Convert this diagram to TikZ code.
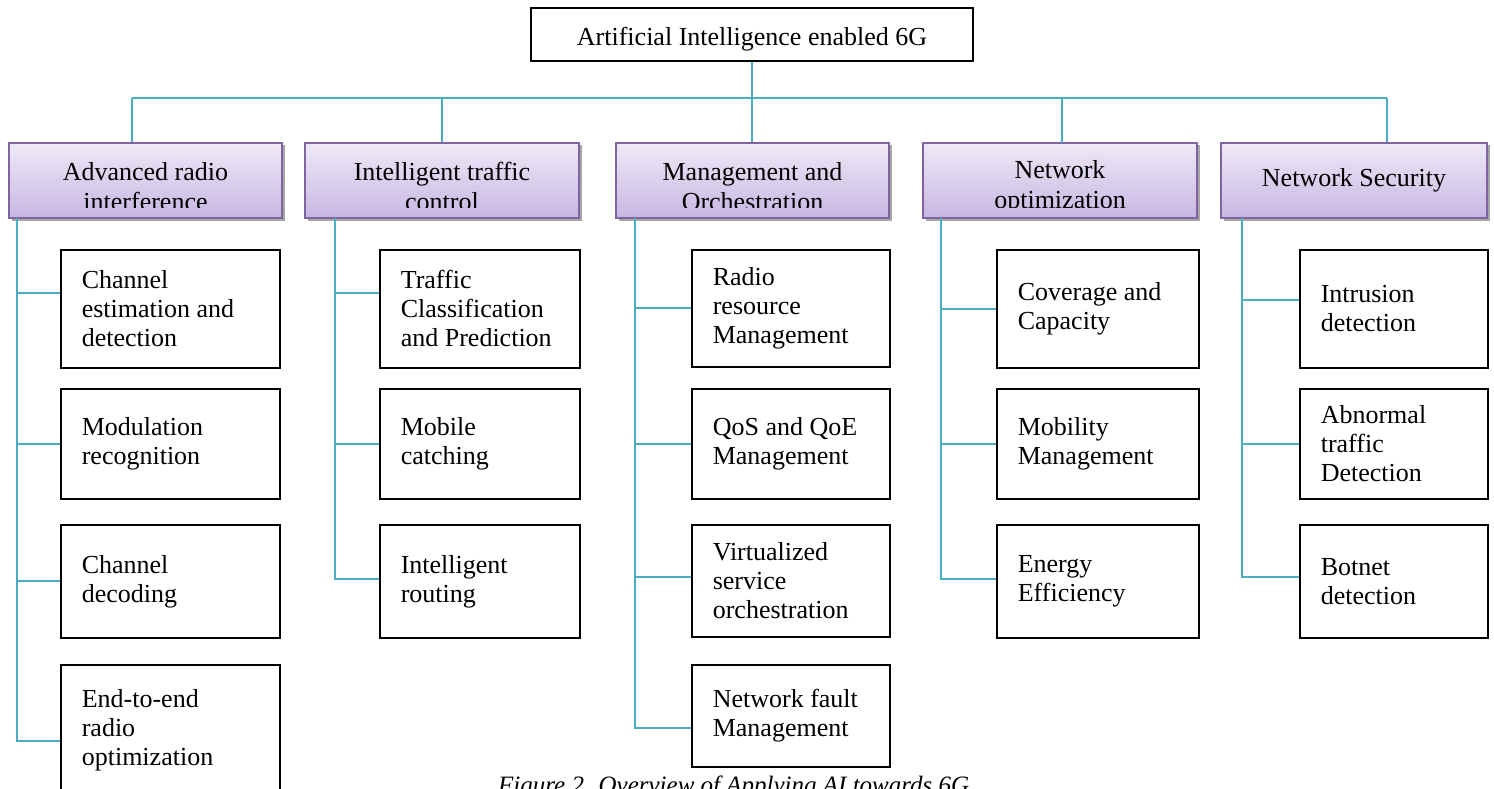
\documentclass[tikz,border=0pt]{standalone}
\usepackage{fontspec}
\setmainfont{Liberation Serif}
\usetikzlibrary{shadows}
\definecolor{linkblue}{HTML}{4BACC6}
\definecolor{hdrborder}{HTML}{8064A2}
\definecolor{hdrtop}{HTML}{EEE9F6}
\definecolor{hdrbot}{HTML}{C8B6E2}
\tikzstyle{rootbox} = [rectangle, draw=black, line width=1.5pt, minimum width=442, minimum height=53, text height=27pt, text depth=4pt, inner ysep=0pt, font=\fontsize{26}{30}\selectfont]
\tikzstyle{leaf} = [rectangle, draw=black, line width=1.6pt, anchor=north west, inner xsep=21pt, inner ysep=0pt, align=flush left, font=\fontsize{26}{29}\selectfont]
\tikzstyle{leafA} = [leaf, text width=177pt]
\tikzstyle{leafB} = [leaf, text width=158pt]
\tikzstyle{leafC} = [leaf, text width=156pt]
\tikzstyle{leafD} = [leaf, text width=160pt]
\tikzstyle{leafE} = [leaf, text width=146pt]
\tikzstyle{link} = [draw=linkblue, line width=2pt]
\tikzset{
  hdr/.style 2 args={rectangle, draw=hdrborder, line width=1.3pt, top color=hdrtop, bottom color=hdrbot,
    minimum height=75, drop shadow={shadow xshift=2.5pt, shadow yshift=-2.5pt, opacity=0.35, fill=black},
    path picture={
      \clip ([yshift=11pt]path picture bounding box.south west) rectangle (path picture bounding box.north east);
      \node[align=center, font=\fontsize{26}{30}\selectfont] at ([yshift=#1]path picture bounding box.center) {#2};
    }}
}

\begin{document}
\begin{tikzpicture}[x=1pt, y=-1pt]
\useasboundingbox (0,0) rectangle (1494,789);
\clip (0,0) rectangle (1494,789);

% top of the tree
\node [rootbox] (root) at (752,34.5) {Artificial Intelligence enabled 6G};

% the five areas
\node [hdr={-6pt}{Advanced radio\\interference}, minimum width=273] (radio) at (145.5,180.5) {};
\node [hdr={-6pt}{Intelligent traffic\\control}, minimum width=274] (traffic) at (442,180.5) {};
\node [hdr={-6pt}{Management and\\Orchestration}, minimum width=273] (mgmt) at (752.5,180.5) {};
\node [hdr={-7pt}{Network\\optimization}, minimum width=274] (netopt) at (1060,180.5) {};
\node [hdr={0pt}{Network Security}, minimum width=266] (netsec) at (1354,180.5) {};

\coordinate (busL) at (132,98);
\coordinate (busR) at (1387,98);
\draw [link] (root.south) -- (root.south |- mgmt.north);
\draw [link] (busL) -- (busR);
\draw [link] (busL) -- (busL |- radio.north);
\draw [link] (traffic.north |- busL) -- (traffic.north);
\draw [link] (1062,98) -- (1062,143);
\draw [link] (busR) -- (busR |- netsec.north);

% leaves
\node [leafA, minimum height=118] (chest) at (60,249) {Channel\\estimation and\\detection};
\node [leafA, minimum height=110] (modrec) at (60,388) {Modulation\\recognition};
\node [leafA, minimum height=113] (chdec) at (60,524) {Channel\\decoding};
\node [leafA, minimum height=131] (e2e) at (60,664) {End-to-end\\radio\\optimization};

\node [leafB, minimum height=118] (tcp) at (379,249) {Traffic\\Classification\\and Prediction};
\node [leafB, minimum height=110] (mobcat) at (379,388) {Mobile\\catching};
\node [leafB, minimum height=113] (introute) at (379,524) {Intelligent\\routing};

\node [leafC, minimum height=117] (rrm) at (691,249) {Radio\\resource\\Management};
\node [leafC, minimum height=110] (qos) at (691,388) {QoS and QoE\\Management};
\node [leafC, minimum height=112] (vso) at (691,524) {Virtualized\\service\\orchestration};
\node [leafC, minimum height=102] (nfm) at (691,664) {Network fault\\Management};

\node [leafD, minimum height=118] (cov) at (996,249) {Coverage and\\Capacity};
\node [leafD, minimum height=110] (mobm) at (996,388) {Mobility\\Management};
\node [leafD, minimum height=113] (ee) at (996,524) {Energy\\Efficiency};

\node [leafE, minimum height=118] (intr) at (1299,249) {Intrusion\\detection};
\node [leafE, minimum height=110] (abn) at (1299,388) {Abnormal\\traffic\\Detection};
\node [leafE, minimum height=113] (bot) at (1299,524) {Botnet\\detection};

% trunks down each column
\coordinate (t1) at (17,218);
\coordinate (t2) at (335,218);
\coordinate (t3) at (635,218);
\coordinate (t4) at (941,218);
\coordinate (t5) at (1242,218);
\draw [link] (t1) |- ([yshift=16pt]chest.west);
\draw [link] (t1) |- (modrec.west);
\draw [link] (t1) |- ([yshift=0.5pt]chdec.west);
\draw [link] (t1) |- ([yshift=-11pt]e2e.west);
\draw [link] (t2) |- ([yshift=16pt]tcp.west);
\draw [link] (t2) |- (mobcat.west);
\draw [link] (t2) |- ([yshift=2.5pt]introute.west);
\draw [link] (t3) |- ([yshift=0.5pt]rrm.west);
\draw [link] (t3) |- (qos.west);
\draw [link] (t3) |- ([yshift=4pt]vso.west);
\draw [link] (t3) |- ([yshift=-12pt]nfm.west);
\draw [link] (t4) |- (cov.west);
\draw [link] (t4) |- (mobm.west);
\draw [link] (t4) |- ([yshift=2.5pt]ee.west);
\draw [link] (t5) |- ([yshift=9pt]intr.west);
\draw [link] (t5) |- (abn.west);
\draw [link] (t5) |- ([yshift=4.5pt]bot.west);

% caption, cut off at the bottom
\node [anchor=base west, inner sep=0pt, font=\fontsize{25}{29}\selectfont\itshape] (cap) at (498,793) {Figure 2. Overview of Applying AI towards 6G};
\end{tikzpicture}
\end{document}
